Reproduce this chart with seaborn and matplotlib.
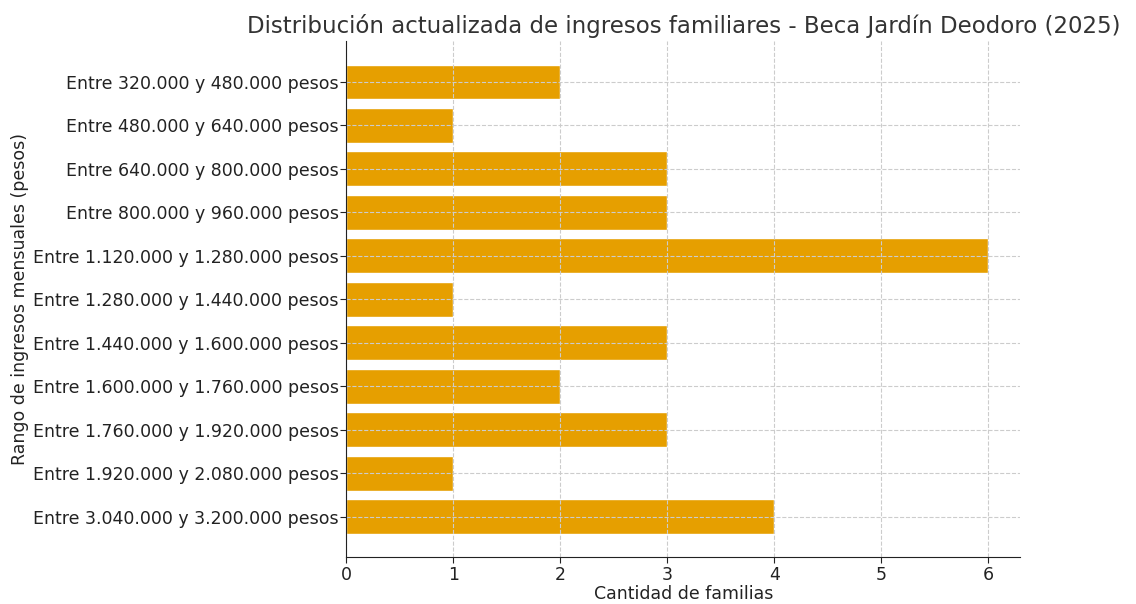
import pandas as pd
import matplotlib
matplotlib.use("Agg")
import matplotlib.pyplot as plt
import seaborn as sns

rangos = [
    "Entre 320.000 y 480.000 pesos",
    "Entre 480.000 y 640.000 pesos",
    "Entre 640.000 y 800.000 pesos",
    "Entre 800.000 y 960.000 pesos",
    "Entre 1.120.000 y 1.280.000 pesos",
    "Entre 1.280.000 y 1.440.000 pesos",
    "Entre 1.440.000 y 1.600.000 pesos",
    "Entre 1.600.000 y 1.760.000 pesos",
    "Entre 1.760.000 y 1.920.000 pesos",
    "Entre 1.920.000 y 2.080.000 pesos",
    "Entre 3.040.000 y 3.200.000 pesos",
]
familias = [2, 1, 3, 3, 6, 1, 3, 2, 3, 1, 4]

data = pd.DataFrame({"rango": rangos, "familias": familias})

sns.set_style("ticks")
plt.rcParams['font.family'] = ['DejaVu Sans']

fig, ax = plt.subplots(figsize=(11.36, 6.04), dpi=100)
sns.barplot(data=data, x="familias", y="rango", orient="h", color="#E69F00",
            saturation=1, width=0.8, ax=ax)
ax.set_xlim(0, 6.3)
ax.set_ylim(len(rangos) - 1 + 0.94, -0.94)
ax.grid(True, linestyle="--", color="#cccccc", linewidth=0.8)
ax.set_axisbelow(False)
sns.despine(ax=ax)
for s in ("left", "bottom"):
    ax.spines[s].set_zorder(5)
    ax.spines[s].set_color("#222222")
ax.tick_params(labelsize=12.5, colors="#222222", length=4, pad=2)
ax.tick_params(axis="y", pad=1.5)
ax.set_title("Distribución actualizada de ingresos familiares - Beca Jardín Deodoro (2025)",
             fontsize=16.5, color="#333333", pad=6)
ax.set_xlabel("Cantidad de familias", fontsize=12.5, color="#222222", labelpad=1)
ax.set_ylabel("Rango de ingresos mensuales (pesos)", fontsize=12.5, color="#222222", labelpad=3)
fig.subplots_adjust(left=0.305, right=0.898, top=0.932, bottom=0.077)
fig.savefig("out.png")
